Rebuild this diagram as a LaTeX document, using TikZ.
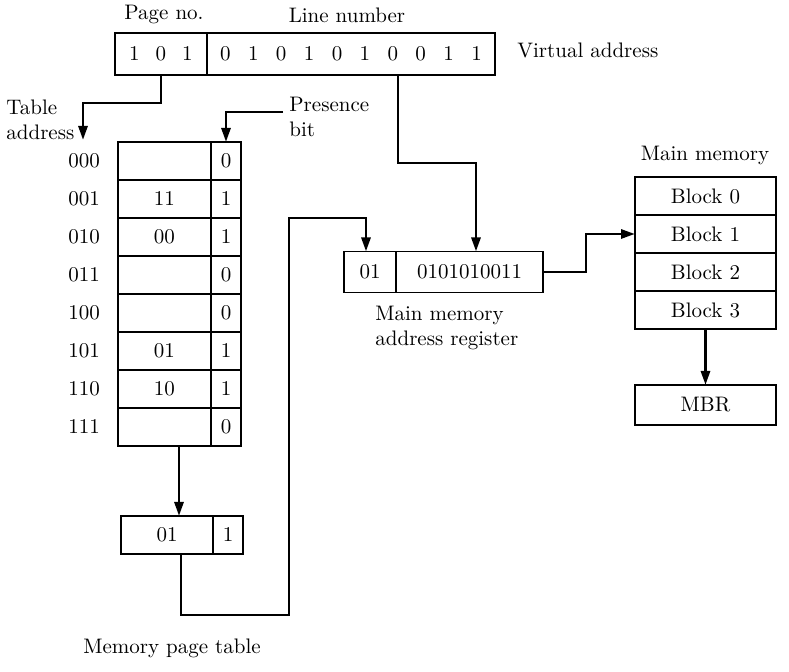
\documentclass[tikz,border=0pt]{standalone}
\usetikzlibrary{arrows.meta}

\begin{document}
\begin{tikzpicture}[x=0.5pt,y=-0.5pt,font=\fontsize{10.5}{12.5}\selectfont,field/.style={draw,line width=0.9pt,inner sep=0pt,outer sep=0pt,minimum height=19pt},flow/.style={line width=1.4pt,-{Triangle[length=7pt,width=4.5pt]}},label/.style={align=left,inner sep=3pt}]
\useasboundingbox (0,0) rectangle (789,672);
% virtual address
\node at (164,15) (pageno) {Page no.};
\node at (347,15) (lineno) {Line number};
\node[field,minimum width=46pt,minimum height=21pt] (vpage) at (161,54) {1\hspace{8pt}0\hspace{8pt}1};
\node[field,minimum width=144pt,minimum height=21pt,anchor=west] (vline) at (vpage.east) {0\hspace{8.7pt}1\hspace{8.7pt}0\hspace{8.7pt}1\hspace{8.7pt}0\hspace{8.7pt}1\hspace{8.7pt}0\hspace{8.7pt}0\hspace{8.7pt}1\hspace{8.7pt}1};
\node[label,anchor=west] (vaddr) at (511,50) {Virtual address};
% memory page table
\node[label,anchor=west] (tabaddrlabel) at (0,120) {Table\\address};
\node[label,anchor=west] (presence) at (283,117) {Presence\\bit};
\coordinate (tabaddr) at (83,140);
\foreach \addr/\frm/\bit [count=\i] in {000//0,001/11/1,010/00/1,011//0,100//0,101/01/1,110/10/1,111//0}{
  \node[field,minimum width=46.5pt] (frame-\i) at (164.5,{161+38*(\i-1)}) {\frm};
  \node[field,minimum width=15pt,anchor=west] (bit-\i) at (frame-\i.east) {\bit};
  \node (addr-\i) at (84,{161+38*(\i-1)}) {\addr};
}
\node[field,minimum width=46pt] (pframe) at (167,535) {01};
\node[field,minimum width=15pt,anchor=west] (pbit) at (pframe.east) {1};
\node (ptlabel) at (172,648) {Memory page table};
% main memory address register
\node[field,minimum width=26pt,minimum height=20.5pt] (mpage) at (370,272) {01};
\node[field,minimum width=73.5pt,minimum height=20.5pt,anchor=west] (moff) at (mpage.east) {0101010011};
\node[label,anchor=north west] (mmarlabel) at (369,300) {Main memory\\address register};
% main memory
\node (memlabel) at (705,155) {Main memory};
\foreach \i in {0,...,3}{
  \node[field,minimum width=70.5pt] (blk-\i) at (705.5,{196+38*\i}) {Block \i};
}
\node[field,minimum width=70.5pt,minimum height=20pt] (mbr) at (705.5,405) {MBR};
% connectors
\draw[flow] (vpage.south) -- ++(0,28) -| (tabaddr);
\draw[flow] ([yshift=2.5pt]presence.west) -| (bit-1.north);
\draw[flow] ([xshift=23.5pt]vline.south) -- ++(0,88) -| ([xshift=3.25pt]moff.north);
\draw[flow] ([xshift=7.25pt]frame-8.south) -- ([xshift=7.25pt]frame-8.south |- pframe.north);
\draw[flow] ([xshift=7pt]pframe.south) -- ++(0,61) -- ++(108,0) -- ++(0,-397) -| ([xshift=-2pt]mpage.north);
\draw[flow] (moff.east) -- ++(43,0) |- (blk-1.west);
\draw[flow] (blk-3.south) -- (mbr.north);
\end{tikzpicture}
\end{document}
